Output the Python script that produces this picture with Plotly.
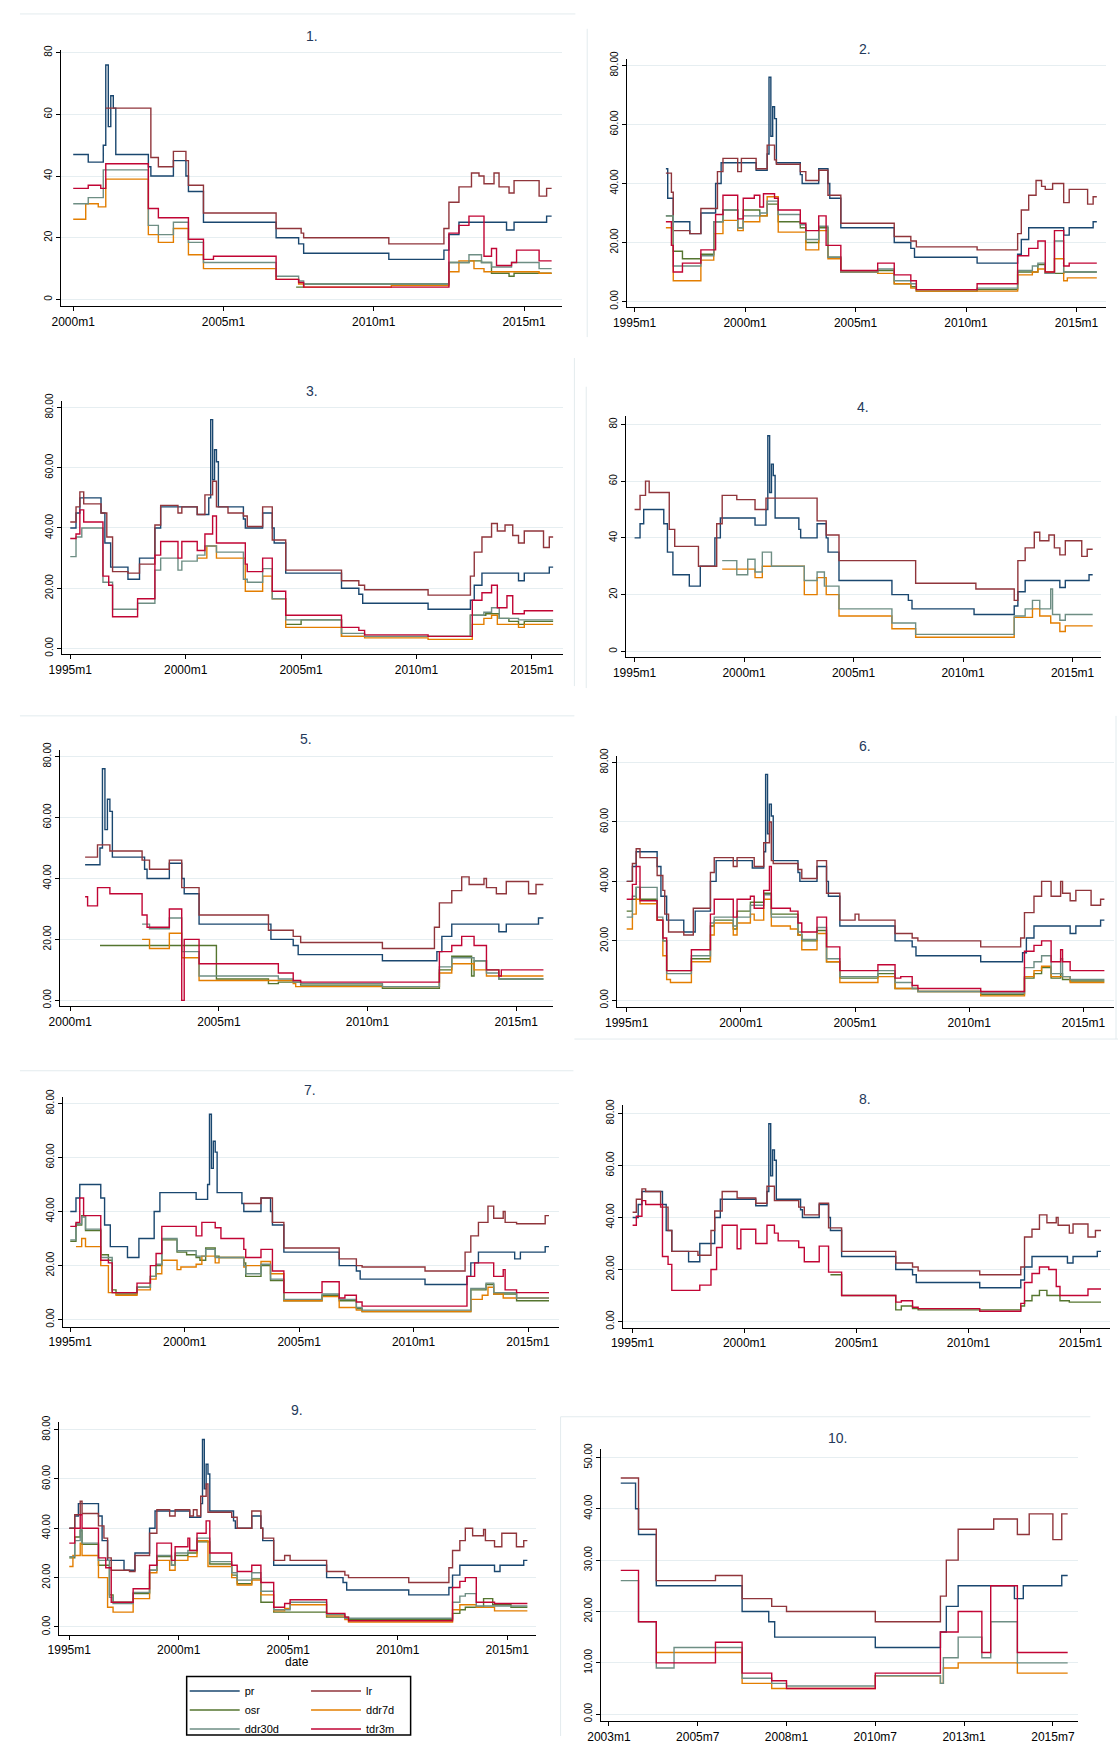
import plotly.graph_objects as go

# ---------------- data (change points, "YYYY-MM": value) ----------------
PR = [("1995-01", 40), ("1995-04", 45), ("1995-06", 50), ("1996-05", 45), ("1996-07", 35), ("1996-10", 27),
      ("1997-07", 23), ("1998-01", 30), ("1998-09", 40), ("1998-12", 47), ("2000-07", 44.5), ("2001-01", 50),
      ("2001-02", 76), ("2001-03", 56), ("2001-04", 66), ("2001-05", 62), ("2001-06", 47), ("2002-07", 43),
      ("2002-08", 40), ("2003-05", 45), ("2003-10", 40), ("2003-11", 35), ("2004-05", 25), ("2006-10", 20),
      ("2007-07", 18), ("2007-09", 15), ("2010-07", 13), ("2012-05", 16), ("2012-07", 21), ("2012-11", 25),
      ("2014-06", 22.5), ("2014-09", 25), ("2015-10", 27), ("2015-12", 27)]
PR_START = ["2000-01", "1996-06", "1995-01", "1995-01", "2000-07", "1995-01", "1995-01", "1995-01", "1995-01", "2003-05"]

# Panel 1
P1_LR = [("2001-02", 62), ("2002-08", 46), ("2002-11", 43), ("2003-05", 48), ("2003-10", 45), ("2003-11", 37),
         ("2004-05", 28), ("2006-10", 23), ("2007-08", 21.5), ("2007-09", 20), ("2010-07", 18), ("2012-05", 23),
         ("2012-07", 31.5), ("2012-11", 36.5), ("2013-04", 41), ("2013-07", 40), ("2013-09", 37.5), ("2014-01", 41),
         ("2014-03", 36.5), ("2014-07", 34.5), ("2014-09", 38.5), ("2015-07", 33.5), ("2015-10", 36), ("2015-12", 36)]
P1_OSR = [("2007-06", 4), ("2007-09", 5), ("2012-07", 12), ("2013-03", 12.5), ("2013-08", 12), ("2013-12", 8.5),
          ("2014-07", 7.5), ("2014-09", 8.5), ("2015-12", 8.5)]
P1_DDR7D = [("2000-01", 26), ("2000-06", 31), ("2000-11", 30), ("2001-02", 39), ("2002-07", 21), ("2002-11", 18.5),
            ("2003-05", 23), ("2003-11", 14.5), ("2004-05", 10), ("2006-10", 6.5), ("2007-07", 5), ("2007-09", 4),
            ("2010-08", 4.5), ("2012-07", 9), ("2012-11", 12.5), ("2013-05", 10), ("2013-09", 9), ("2015-07", 8.5),
            ("2015-12", 8.5)]
P1_DDR30D = [("2000-01", 31), ("2000-07", 33), ("2001-01", 42), ("2002-07", 24), ("2002-11", 21), ("2003-05", 25),
             ("2003-11", 18.5), ("2004-05", 12), ("2006-10", 7.5), ("2007-07", 6), ("2007-09", 5), ("2012-07", 12),
             ("2013-03", 14.5), ("2013-08", 12), ("2013-12", 10.5), ("2014-08", 12), ("2015-07", 10), ("2015-12", 10)]
P1_TDR3M = [("2000-01", 36), ("2000-07", 37), ("2000-12", 36), ("2001-02", 44), ("2002-07", 29.5), ("2002-11", 26.5),
            ("2003-11", 19.5), ("2004-05", 13), ("2004-09", 14), ("2006-10", 6.5), ("2007-07", 5.5), ("2007-09", 4),
            ("2012-07", 21.5), ("2012-11", 24), ("2013-03", 27), ("2013-09", 14), ("2013-12", 16.5), ("2014-02", 11),
            ("2014-08", 12), ("2014-10", 16), ("2015-07", 12.5), ("2015-12", 12.5)]

# Panel 2
P2_LR = [("1996-06", 43.5), ("1996-09", 37), ("1996-10", 24), ("1997-07", 23), ("1998-01", 31.5), ("1998-10", 44),
         ("1999-01", 48.5), ("1999-09", 44), ("1999-11", 48.5), ("2000-07", 45), ("2001-01", 53), ("2001-05", 48),
         ("2001-06", 46.5), ("2002-07", 44), ("2002-10", 41), ("2003-05", 44.5), ("2003-10", 36), ("2004-05", 26.5),
         ("2006-10", 22), ("2007-07", 20.5), ("2007-10", 18.5), ("2010-07", 17.5), ("2012-05", 23), ("2012-07", 31),
         ("2012-11", 36), ("2013-03", 41), ("2013-06", 39), ("2013-08", 38), ("2013-12", 40), ("2014-06", 33.5),
         ("2014-09", 38), ("2015-07", 33), ("2015-10", 35.5), ("2015-12", 35.5)]
P2_OSR = [("1996-06", 29), ("1996-10", 17), ("1997-03", 14.5), ("1998-01", 16), ("1998-08", 27), ("1999-01", 31),
          ("1999-09", 25), ("1999-12", 31), ("2000-09", 29), ("2001-01", 33), ("2001-07", 27), ("2002-07", 25),
          ("2002-10", 20), ("2003-05", 25), ("2003-10", 15), ("2004-05", 10), ("2006-01", 10.5), ("2006-10", 6),
          ("2007-07", 5), ("2007-10", 3.5), ("2010-07", 4), ("2012-05", 10), ("2013-04", 12.5), ("2013-08", 9.5),
          ("2014-06", 10), ("2015-12", 10)]
P2_DDR7D = [("1996-06", 25), ("1996-10", 7), ("1998-01", 14), ("1998-08", 23), ("1999-01", 27.5), ("1999-09", 24),
            ("1999-12", 27), ("2000-09", 29), ("2001-01", 35.5), ("2001-07", 23.5), ("2002-10", 17.5), ("2003-05", 24),
            ("2003-10", 14.5), ("2004-05", 10), ("2006-01", 9.5), ("2006-10", 6), ("2007-07", 4.5), ("2007-10", 3.5),
            ("2012-05", 9), ("2013-01", 10), ("2013-04", 11), ("2013-08", 10), ("2014-01", 14.5), ("2014-06", 7),
            ("2014-08", 8), ("2015-12", 8)]
P2_DDR30D = [("1996-06", 29), ("1996-10", 12), ("1998-01", 15.5), ("1998-08", 27), ("1999-01", 31), ("1999-09", 25),
             ("1999-12", 29), ("2000-09", 30), ("2001-01", 34), ("2001-07", 29.5), ("2002-07", 26), ("2002-10", 21),
             ("2003-05", 25.5), ("2003-10", 15), ("2004-05", 10), ("2006-01", 11), ("2006-10", 7), ("2007-07", 6),
             ("2007-10", 4), ("2010-07", 4.5), ("2012-05", 10.5), ("2013-01", 12), ("2013-04", 13), ("2013-08", 9.5),
             ("2014-01", 20.5), ("2014-06", 10), ("2015-12", 10)]
P2_TDR3M = [("1996-06", 27), ("1996-09", 19), ("1996-10", 10), ("1997-03", 13), ("1998-01", 17.5), ("1998-09", 29.5),
            ("1999-01", 36), ("1999-09", 28), ("1999-12", 35), ("2000-06", 36), ("2000-09", 32), ("2000-11", 36.5),
            ("2001-05", 35), ("2001-07", 31), ("2002-07", 26.5), ("2002-10", 24), ("2003-05", 29), ("2003-09", 19),
            ("2004-05", 10.5), ("2006-01", 13), ("2006-10", 9), ("2007-07", 7), ("2007-10", 4), ("2010-07", 6),
            ("2012-05", 15.5), ("2012-11", 18), ("2013-04", 20.5), ("2013-08", 10), ("2014-01", 24), ("2014-06", 12),
            ("2014-09", 13), ("2015-12", 13)]

# Panel 3
P3_LR = [("1995-01", 42), ("1995-04", 47), ("1995-06", 52), ("1995-08", 48), ("1996-05", 45), ("1996-08", 37),
         ("1996-11", 25.5), ("1997-07", 25), ("1998-01", 28), ("1998-09", 41), ("1998-12", 47.5), ("1999-09", 45),
         ("1999-11", 47), ("2000-07", 44.5), ("2000-11", 51), ("2001-03", 55.5), ("2001-05", 47), ("2001-11", 45),
         ("2002-07", 44), ("2002-09", 40.5), ("2003-05", 47), ("2003-10", 36), ("2004-05", 26), ("2006-10", 22.5),
         ("2007-07", 21), ("2007-10", 19.5), ("2010-07", 17.7), ("2012-05", 24), ("2012-07", 32), ("2012-11", 37),
         ("2013-04", 41.5), ("2013-07", 39), ("2013-11", 41), ("2014-03", 37.5), ("2014-06", 35), ("2014-09", 39),
         ("2015-07", 33.5), ("2015-10", 37), ("2015-12", 37)]
P3_OSR = [("2004-05", 8), ("2005-01", 9.5), ("2006-10", 4), ("2012-05", 11), ("2013-01", 11.5), ("2013-08", 10),
          ("2014-01", 9), ("2014-06", 8), ("2014-09", 9), ("2015-12", 9)]
P3_DDR7D = [("2000-07", 30), ("2000-12", 34), ("2001-05", 30), ("2002-08", 19), ("2003-05", 24), ("2003-10", 16.5),
            ("2004-05", 7), ("2006-10", 4), ("2007-10", 3.5), ("2010-07", 3), ("2012-06", 8), ("2012-12", 10),
            ("2013-04", 11), ("2013-07", 8), ("2014-06", 7), ("2014-09", 8), ("2015-12", 8)]
P3_DDR30D = [("1995-01", 30.5), ("1995-04", 37), ("1995-07", 40), ("1996-06", 22), ("1996-11", 13), ("1997-12", 15),
             ("1998-09", 26), ("1998-12", 30), ("1999-09", 26), ("1999-11", 29), ("2000-07", 31), ("2000-11", 34),
             ("2001-05", 32), ("2002-07", 23), ("2002-09", 22), ("2003-05", 26.5), ("2003-10", 16.5), ("2004-05", 9.5),
             ("2006-10", 5), ("2007-10", 4), ("2012-05", 11), ("2012-12", 12), ("2013-04", 13.5), ("2013-08", 10),
             ("2014-06", 9.5), ("2015-12", 9.5)]
P3_TDR3M = [("1995-01", 36.5), ("1995-04", 38), ("1995-06", 46), ("1995-08", 42), ("1996-06", 24), ("1996-09", 21),
            ("1996-11", 10.5), ("1997-12", 16.5), ("1998-09", 31), ("1998-12", 35.5), ("1999-09", 30), ("1999-11", 35.5),
            ("2000-07", 32.5), ("2000-11", 38), ("2001-03", 44), ("2001-05", 35), ("2002-08", 28), ("2002-09", 25.5),
            ("2003-05", 30), ("2003-10", 19), ("2004-05", 11), ("2006-10", 7), ("2007-07", 6), ("2007-10", 4.5),
            ("2010-07", 4), ("2012-06", 16), ("2012-11", 18.5), ("2013-04", 21), ("2013-07", 13.5), ("2013-12", 17.5),
            ("2014-03", 11.5), ("2014-09", 12.5), ("2015-12", 12.5)]

# Panel 4
P4_LR = [("1995-01", 50), ("1995-04", 55), ("1995-07", 60), ("1995-09", 56), ("1996-08", 43), ("1996-11", 37),
         ("1997-12", 30), ("1998-10", 45), ("1999-01", 55), ("1999-09", 53.5), ("2000-07", 50), ("2001-01", 54),
         ("2003-05", 46), ("2003-10", 41), ("2004-05", 32), ("2007-11", 24), ("2010-08", 22), ("2012-05", 18),
         ("2012-07", 32), ("2012-11", 36.5), ("2013-04", 42), ("2013-07", 39), ("2013-12", 41), ("2014-03", 36.5),
         ("2014-06", 34), ("2014-09", 39), ("2015-06", 33.5), ("2015-09", 36), ("2015-12", 36)]
P4_DDR7D = [("1999-01", 29), ("2000-07", 26), ("2000-11", 30), ("2002-10", 20), ("2003-05", 26), ("2003-10", 20),
            ("2004-05", 12.5), ("2006-10", 8), ("2007-11", 5), ("2012-05", 12), ("2013-03", 15), ("2013-07", 12.5),
            ("2014-01", 10), ("2014-06", 7), ("2014-09", 9), ("2015-12", 9)]
P4_DDR30D = [("1999-01", 32), ("1999-09", 27), ("2000-03", 32.5), ("2000-07", 28), ("2000-11", 35), ("2001-04", 30),
             ("2002-10", 25), ("2003-05", 28), ("2003-09", 23), ("2004-05", 15), ("2006-10", 10), ("2007-11", 6),
             ("2012-05", 12.5), ("2012-11", 15), ("2013-03", 18), ("2013-07", 15), ("2014-01", 22), ("2014-02", 13),
             ("2014-06", 11), ("2014-09", 13), ("2015-12", 13)]

# Panel 5
P5_LR = [("2000-07", 47), ("2000-12", 51), ("2001-05", 49), ("2002-06", 46), ("2002-09", 43), ("2003-05", 46),
         ("2003-10", 37), ("2004-05", 28), ("2006-09", 23), ("2007-07", 21), ("2007-10", 19), ("2010-07", 17),
         ("2012-04", 24), ("2012-06", 32), ("2012-11", 36), ("2013-03", 40.5), ("2013-06", 38), ("2013-12", 40),
         ("2014-01", 37), ("2014-05", 35), ("2014-09", 39), ("2015-06", 35), ("2015-09", 38), ("2015-12", 38)]
P5_OSR = [("2001-01", 18), ("2004-12", 7), ("2006-09", 5.5), ("2007-01", 6), ("2007-10", 5), ("2010-07", 4),
          ("2012-06", 10), ("2012-11", 14.5), ("2013-07", 8), ("2013-08", 13), ("2014-01", 10), ("2014-06", 7),
          ("2015-12", 7)]
P5_DDR7D = [("2002-06", 20), ("2002-09", 17), ("2003-05", 22), ("2003-10", 14), ("2004-05", 6.5), ("2007-07", 5.5),
            ("2007-08", 4.5), ("2012-06", 9), ("2012-11", 12), ("2013-08", 10), ("2014-01", 8), ("2015-12", 8)]
P5_DDR30D = [("2002-06", 25), ("2002-09", 23.5), ("2003-05", 27), ("2003-10", 16), ("2004-05", 8), ("2007-01", 7),
             ("2007-07", 6), ("2007-10", 5.5), ("2010-07", 4.5), ("2012-06", 11), ("2012-11", 14), ("2013-08", 13),
             ("2014-01", 9), ("2014-06", 7), ("2015-12", 7)]
P5_TDR3M = [("2000-07", 34), ("2000-08", 31), ("2000-12", 37), ("2001-05", 35), ("2002-06", 28), ("2002-08", 24),
            ("2003-05", 30), ("2003-10", 0), ("2003-11", 20), ("2004-05", 12), ("2007-01", 9), ("2007-07", 6.5),
            ("2007-10", 6), ("2012-06", 16), ("2012-11", 18), ("2013-03", 21), ("2013-08", 18), ("2014-01", 10),
            ("2014-06", 8), ("2014-07", 10), ("2015-12", 10)]

# Panel 6
P6_LR = [("1995-01", 40), ("1995-04", 46), ("1995-06", 51), ("1995-08", 48), ("1996-05", 42), ("1996-08", 37),
         ("1996-09", 29), ("1996-11", 23), ("1997-07", 22), ("1997-12", 31), ("1998-09", 43), ("1998-11", 48),
         ("1999-09", 45), ("1999-11", 48), ("2000-08", 45), ("2001-01", 53), ("2001-04", 60), ("2001-05", 47),
         ("2001-06", 46), ("2002-07", 44), ("2002-09", 41), ("2003-05", 47), ("2003-10", 36), ("2004-05", 27),
         ("2005-01", 29), ("2005-03", 27), ("2006-10", 22.5), ("2007-07", 21), ("2007-10", 20), ("2010-07", 18),
         ("2012-04", 21), ("2012-06", 29.5), ("2012-11", 35), ("2013-03", 40), ("2013-08", 35), ("2014-01", 40),
         ("2014-02", 36), ("2014-06", 33.5), ("2014-09", 37), ("2015-05", 32), ("2015-10", 34), ("2015-12", 34)]
P6_OSR = [("1995-01", 30), ("1995-04", 34), ("1995-06", 38), ("1995-08", 34), ("1996-05", 27), ("1996-08", 20),
          ("1996-10", 10), ("1997-11", 14), ("1998-09", 25), ("1998-11", 27), ("1999-09", 24), ("1999-11", 30),
          ("2000-06", 33), ("2001-01", 36), ("2001-05", 29), ("2002-07", 22), ("2002-09", 20), ("2003-05", 23.5),
          ("2003-10", 13), ("2004-05", 7.5), ("2006-01", 9), ("2006-10", 4), ("2007-10", 3), ("2010-07", 2),
          ("2012-06", 7.5), ("2012-11", 9), ("2013-03", 11), ("2013-08", 7.5), ("2014-01", 9), ("2014-02", 7),
          ("2014-06", 6.5), ("2015-12", 6.5)]
P6_DDR7D = [("1995-01", 24), ("1995-04", 29), ("1995-06", 34), ("1995-08", 32.5), ("1996-05", 27), ("1996-08", 15),
            ("1996-10", 7), ("1996-12", 6), ("1997-11", 13), ("1998-09", 22), ("1998-11", 26), ("1999-09", 22),
            ("1999-11", 26), ("2000-06", 29), ("2000-08", 27), ("2001-01", 34), ("2001-05", 25), ("2002-03", 24),
            ("2002-07", 22), ("2002-09", 17), ("2003-05", 22.5), ("2003-10", 13), ("2004-05", 6), ("2006-01", 8),
            ("2006-10", 4), ("2007-10", 3), ("2010-07", 1.5), ("2012-06", 8), ("2012-11", 10), ("2013-03", 11.5),
            ("2013-08", 8), ("2014-06", 6), ("2015-12", 6)]
P6_DDR30D = [("1995-01", 28), ("1995-04", 35), ("1995-06", 38), ("1996-05", 28), ("1996-08", 20), ("1996-10", 9),
             ("1997-11", 15), ("1998-09", 26), ("1998-11", 28), ("1999-09", 25), ("1999-11", 28), ("2000-06", 32),
             ("2001-01", 35.5), ("2001-05", 28), ("2002-07", 23), ("2002-09", 20.5), ("2003-05", 24.5), ("2003-10", 14),
             ("2004-05", 8), ("2006-01", 10), ("2006-10", 6), ("2007-07", 4), ("2007-10", 3), ("2010-07", 2.5),
             ("2012-06", 11), ("2012-11", 13), ("2013-03", 15), ("2013-08", 9), ("2014-01", 14), ("2014-02", 8),
             ("2014-06", 7), ("2015-12", 7)]
P6_TDR3M = [("1995-01", 34), ("1995-04", 39), ("1995-06", 45), ("1995-08", 33.5), ("1996-05", 27), ("1996-08", 21),
            ("1996-10", 10), ("1997-11", 17), ("1998-09", 29), ("1998-11", 34), ("1999-09", 28), ("1999-11", 34),
            ("2000-06", 35), ("2000-08", 31), ("2001-01", 37), ("2001-04", 45), ("2001-05", 31), ("2002-03", 30),
            ("2002-07", 26), ("2002-09", 23), ("2003-05", 28), ("2003-10", 18), ("2004-05", 10), ("2006-01", 12),
            ("2006-10", 7.5), ("2007-01", 8), ("2007-07", 5), ("2007-10", 4), ("2010-07", 3), ("2012-06", 16.5),
            ("2012-11", 18.5), ("2013-03", 20), ("2013-08", 13), ("2014-01", 17), ("2014-02", 13), ("2014-06", 10),
            ("2015-12", 10)]

# Panel 7
P7_LR = [("2002-08", 43), ("2003-05", 45), ("2003-11", 36), ("2004-05", 26.5), ("2006-10", 22.5), ("2007-07", 20),
         ("2007-10", 19.5), ("2010-07", 18), ("2012-04", 25), ("2012-07", 31), ("2012-11", 36), ("2013-04", 42),
         ("2013-07", 37.5), ("2013-12", 40), ("2014-01", 36), ("2014-07", 35.5), ("2015-10", 38.5), ("2015-12", 38.5)]
P7_OSR = [("1995-01", 29), ("1995-04", 35), ("1995-07", 38.5), ("1995-09", 33), ("1996-05", 24), ("1996-09", 22),
          ("1996-11", 11), ("1997-01", 9.5), ("1997-12", 12), ("1998-07", 16), ("1998-10", 20), ("1999-01", 29.5),
          ("1999-09", 25), ("2000-02", 24), ("2000-07", 23), ("2000-09", 22), ("2000-12", 26.5), ("2001-05", 23.5),
          ("2001-07", 23), ("2002-08", 21), ("2002-09", 16), ("2003-05", 20), ("2003-10", 14.5), ("2004-05", 7),
          ("2006-01", 9), ("2006-10", 7), ("2007-07", 4), ("2007-10", 3), ("2012-07", 11), ("2013-03", 13),
          ("2013-07", 9.5), ("2014-07", 7), ("2015-12", 7)]
P7_DDR7D = [("1995-04", 27), ("1995-07", 30), ("1995-09", 27), ("1996-05", 20), ("1996-09", 10), ("1997-01", 9),
            ("1997-12", 11), ("1998-07", 15), ("1998-10", 17), ("1999-01", 22), ("1999-09", 18.5), ("1999-11", 19.5),
            ("2000-07", 20.5), ("2000-10", 23.5), ("2001-05", 21), ("2001-07", 23), ("2002-08", 19.5), ("2002-09", 20),
            ("2003-05", 21.5), ("2003-10", 17), ("2004-05", 7), ("2006-01", 8.5), ("2006-10", 4.5), ("2007-07", 3.5),
            ("2007-10", 3), ("2012-07", 7.5), ("2013-01", 9), ("2013-04", 12), ("2013-07", 9.5), ("2013-12", 8),
            ("2015-12", 8)]
P7_DDR30D = [("1995-01", 29.5), ("1995-04", 35.5), ("1995-07", 38), ("1995-09", 33.5), ("1996-05", 23), ("1996-11", 10),
             ("1997-12", 12), ("1998-07", 16), ("1998-10", 20.5), ("1999-01", 30), ("1999-09", 25.5), ("2000-07", 23.5),
             ("2000-12", 26), ("2001-05", 23), ("2002-08", 20), ("2002-09", 17), ("2003-05", 20.5), ("2003-10", 15),
             ("2004-05", 7.5), ("2006-01", 9.5), ("2006-10", 7.5), ("2007-07", 4.5), ("2007-10", 3.5), ("2012-07", 11.5),
             ("2013-03", 13.5), ("2013-07", 10), ("2014-07", 8), ("2015-12", 8)]
P7_TDR3M = [("1995-01", 34.5), ("1995-04", 36), ("1995-06", 45), ("1995-08", 38.5), ("1996-05", 22), ("1996-09", 21),
            ("1996-11", 10), ("1997-12", 13.5), ("1998-07", 20), ("1998-10", 24.5), ("1999-01", 34.5), ("2000-07", 31),
            ("2000-10", 36), ("2001-05", 34), ("2001-08", 30), ("2002-08", 26), ("2002-09", 23), ("2003-05", 26),
            ("2003-11", 18), ("2004-05", 10), ("2006-01", 14), ("2006-10", 8), ("2007-01", 9), ("2007-07", 6.5),
            ("2007-10", 5), ("2012-05", 16), ("2012-09", 21), ("2013-07", 16), ("2013-12", 18.5), ("2014-01", 11),
            ("2014-07", 10), ("2015-12", 10)]

# Panel 8
P8_LR = [("1995-01", 42), ("1995-03", 47), ("1995-06", 51), ("1995-08", 50), ("1996-04", 44), ("1996-08", 35),
         ("1996-10", 27), ("1997-12", 25.5), ("1998-07", 35), ("1998-09", 42.5), ("1999-01", 50), ("1999-09", 47.5),
         ("2000-07", 45.5), ("2001-01", 52), ("2001-05", 46.5), ("2002-06", 44), ("2002-09", 41), ("2003-05", 45.5),
         ("2003-10", 36), ("2004-05", 27), ("2006-10", 22.5), ("2007-07", 21), ("2007-10", 19.5), ("2010-07", 18),
         ("2012-05", 21), ("2012-07", 32.5), ("2012-11", 35.5), ("2013-03", 41), ("2013-07", 38), ("2013-12", 40),
         ("2014-01", 37), ("2014-07", 34), ("2014-09", 37.5), ("2015-05", 32.5), ("2015-09", 35), ("2015-12", 35)]
P8_OSR = [("2003-11", 18), ("2004-05", 10), ("2006-10", 4.5), ("2007-01", 6), ("2007-07", 5), ("2007-10", 4.5),
          ("2012-05", 6), ("2012-07", 8), ("2012-11", 10), ("2013-03", 12), ("2013-07", 10), ("2014-02", 8),
          ("2014-07", 7.5), ("2015-12", 7.5)]
P8_TDR3M = [("1995-01", 37), ("1995-03", 40.5), ("1995-06", 46.5), ("1995-08", 45), ("1996-05", 25), ("1996-08", 22),
            ("1996-10", 12), ("1998-01", 14), ("1998-07", 20), ("1998-10", 28.5), ("1999-01", 37), ("1999-09", 28),
            ("1999-11", 35.5), ("2000-07", 30), ("2001-01", 37), ("2001-05", 34), ("2001-07", 31), ("2002-06", 28.5),
            ("2002-09", 23), ("2003-05", 29), ("2003-10", 19), ("2004-05", 10), ("2006-10", 7.5), ("2007-01", 8),
            ("2007-07", 5.5), ("2007-10", 5), ("2010-07", 4), ("2012-05", 7), ("2012-07", 15), ("2012-11", 18.5),
            ("2013-03", 21), ("2013-08", 20), ("2013-12", 13.5), ("2014-02", 10), ("2015-05", 12.5), ("2015-12", 12.5)]

# Panel 9
P9_LR = [("1995-01", 40), ("1995-04", 45.5), ("1995-07", 51), ("1995-08", 46), ("1996-05", 41), ("1996-08", 36),
         ("1996-10", 28), ("1996-12", 23), ("1997-10", 22.5), ("1998-01", 29), ("1998-09", 38), ("1999-01", 47.5),
         ("1999-08", 45), ("1999-11", 47.5), ("2000-07", 45), ("2000-09", 47.5), ("2000-11", 45), ("2001-01", 53),
         ("2001-04", 58), ("2001-05", 46.5), ("2002-06", 44.5), ("2002-09", 40), ("2003-05", 47), ("2003-10", 40),
         ("2003-11", 36), ("2004-05", 27), ("2004-11", 29), ("2005-02", 27), ("2006-10", 22.5), ("2007-08", 21),
         ("2007-10", 20), ("2010-07", 18), ("2012-05", 24), ("2012-07", 31), ("2012-11", 35), ("2013-02", 40),
         ("2013-06", 37), ("2013-12", 39.5), ("2014-01", 35), ("2014-06", 32.5), ("2014-10", 38), ("2015-06", 32.5),
         ("2015-10", 35), ("2015-12", 35)]
P9_OSR = [("1995-01", 28), ("1995-04", 36.5), ("1995-07", 39), ("1995-08", 33.5), ("1996-05", 25), ("1996-11", 13),
          ("1997-01", 10), ("1997-12", 13.5), ("1998-09", 23), ("1999-01", 28.5), ("1999-09", 25), ("1999-11", 29),
          ("2000-06", 30), ("2000-11", 34.5), ("2001-06", 25.5), ("2002-06", 21), ("2002-09", 17.5), ("2003-05", 19.5),
          ("2003-10", 10), ("2004-05", 6), ("2006-10", 4), ("2007-10", 3), ("2012-07", 5.5), ("2012-11", 7),
          ("2013-02", 8), ("2013-12", 11.5), ("2014-05", 9), ("2015-03", 8), ("2015-12", 8)]
P9_DDR7D = [("1995-01", 24.5), ("1995-03", 29), ("1995-07", 34), ("1995-08", 29), ("1996-05", 20), ("1996-10", 8),
            ("1997-01", 6), ("1997-12", 11.5), ("1998-09", 22), ("1999-01", 27), ("1999-08", 23), ("1999-11", 27),
            ("2000-06", 28.5), ("2000-11", 35), ("2001-05", 24.5), ("2002-06", 20), ("2002-09", 17), ("2003-05", 19),
            ("2003-10", 13), ("2004-05", 6.5), ("2004-11", 7.5), ("2005-02", 9), ("2006-10", 4.5), ("2007-08", 3),
            ("2007-10", 2), ("2012-07", 7), ("2012-11", 9), ("2013-08", 8), ("2014-06", 6.5), ("2015-12", 6.5)]
P9_DDR30D = [("1995-01", 28.5), ("1995-04", 35), ("1995-07", 39.5), ("1995-08", 34), ("1996-05", 27), ("1996-11", 12),
             ("1997-01", 9.5), ("1997-12", 14), ("1998-09", 23), ("1999-01", 29), ("1999-09", 25), ("1999-11", 30),
             ("2000-06", 31), ("2000-11", 36), ("2001-06", 26.5), ("2002-06", 22), ("2002-09", 19), ("2003-05", 22),
             ("2003-10", 14.5), ("2004-05", 7), ("2005-02", 10), ("2006-10", 5), ("2007-08", 3.5), ("2012-07", 10),
             ("2012-11", 12.5), ("2013-02", 13.5), ("2013-08", 8.5), ("2015-12", 8.5)]
P9_TDR3M = [("1995-01", 34), ("1995-04", 40), ("1995-07", 45.5), ("1995-08", 40), ("1996-05", 28), ("1996-09", 24),
            ("1996-12", 10), ("1997-12", 15.5), ("1998-09", 25), ("1999-01", 34), ("1999-09", 27), ("1999-11", 32.5),
            ("2000-06", 36), ("2000-07", 31), ("2000-11", 38), ("2001-04", 43), ("2001-06", 30), ("2002-06", 25),
            ("2002-09", 22.5), ("2003-05", 25), ("2003-10", 18), ("2004-05", 8), ("2004-11", 9.5), ("2005-02", 11),
            ("2006-10", 5.5), ("2007-08", 4), ("2007-10", 2.5), ("2012-07", 16), ("2012-11", 18.5), ("2013-02", 20),
            ("2013-08", 10), ("2014-06", 9.5), ("2015-12", 9.5)]

# Panel 10
P10_LR = [("2003-05", 46), ("2003-11", 36), ("2004-05", 26), ("2006-01", 27), ("2006-10", 22.5), ("2007-08", 21),
          ("2008-01", 20), ("2010-07", 18), ("2012-05", 23), ("2012-07", 30), ("2012-11", 36), ("2013-11", 38),
          ("2014-07", 35), ("2014-11", 39), ("2015-07", 34), ("2015-10", 39), ("2015-12", 39)]
P10_DDR7D = [("2004-05", 12), ("2006-10", 6), ("2007-08", 5), ("2010-07", 7.5), ("2012-05", 6), ("2012-06", 9),
             ("2012-11", 10), ("2014-07", 8), ("2015-12", 8)]
P10_DDR30D = [("2003-05", 26), ("2003-11", 18), ("2004-05", 9), ("2004-11", 13), ("2006-10", 7), ("2007-08", 6),
              ("2008-01", 5.5), ("2010-07", 7.5), ("2012-05", 6), ("2012-06", 11), ("2012-11", 15), ("2013-07", 11),
              ("2013-10", 18), ("2014-07", 10), ("2015-12", 10)]
P10_TDR3M = [("2003-05", 28), ("2003-11", 18), ("2004-05", 10), ("2006-01", 14), ("2006-10", 8), ("2007-08", 6.5),
             ("2008-01", 5), ("2010-07", 8), ("2012-05", 16), ("2012-11", 20), ("2013-07", 12), ("2013-10", 25),
             ("2014-07", 12), ("2015-12", 12)]

SERIES_NAMES = ["pr", "lr", "osr", "ddr7d", "ddr30d", "tdr3m"]
PANEL_TITLES = ["1.", "2.", "3.", "4.", "5.", "6.", "7.", "8.", "9.", "10."]

PANEL_SERIES = [
    {"lr": P1_LR, "osr": P1_OSR, "ddr7d": P1_DDR7D, "ddr30d": P1_DDR30D, "tdr3m": P1_TDR3M},
    {"lr": P2_LR, "osr": P2_OSR, "ddr7d": P2_DDR7D, "ddr30d": P2_DDR30D, "tdr3m": P2_TDR3M},
    {"lr": P3_LR, "osr": P3_OSR, "ddr7d": P3_DDR7D, "ddr30d": P3_DDR30D, "tdr3m": P3_TDR3M},
    {"lr": P4_LR, "ddr7d": P4_DDR7D, "ddr30d": P4_DDR30D},
    {"lr": P5_LR, "osr": P5_OSR, "ddr7d": P5_DDR7D, "ddr30d": P5_DDR30D, "tdr3m": P5_TDR3M},
    {"lr": P6_LR, "osr": P6_OSR, "ddr7d": P6_DDR7D, "ddr30d": P6_DDR30D, "tdr3m": P6_TDR3M},
    {"lr": P7_LR, "osr": P7_OSR, "ddr7d": P7_DDR7D, "ddr30d": P7_DDR30D, "tdr3m": P7_TDR3M},
    {"lr": P8_LR, "osr": P8_OSR, "tdr3m": P8_TDR3M},
    {"lr": P9_LR, "osr": P9_OSR, "ddr7d": P9_DDR7D, "ddr30d": P9_DDR30D, "tdr3m": P9_TDR3M},
    {"lr": P10_LR, "ddr7d": P10_DDR7D, "ddr30d": P10_DDR30D, "tdr3m": P10_TDR3M},
]

XT_9515 = ([1995, 2000, 2005, 2010, 2015], ["1995m1", "2000m1", "2005m1", "2010m1", "2015m1"])
XT_0015 = ([2000, 2005, 2010, 2015], ["2000m1", "2005m1", "2010m1", "2015m1"])
XT_10 = ([2003, 2005.5, 2008, 2010.5, 2013, 2015.5], ["2003m1", "2005m7", "2008m1", "2010m7", "2013m1", "2015m7"])
YT_INT = ([0, 20, 40, 60, 80], ["0", "20", "40", "60", "80"])
YT_DEC = ([0, 20, 40, 60, 80], ["0.00", "20.00", "40.00", "60.00", "80.00"])
YT_10 = ([0, 10, 20, 30, 40, 50], ["0.00", "10.00", "20.00", "30.00", "40.00", "50.00"])

# ---------------- layout (pixel geometry) ----------------
W, H = 1118, 1744
COLORS = {"pr": "#1a476f", "lr": "#90353b", "osr": "#55752f", "ddr7d": "#e37e00",
          "ddr30d": "#6e8e84", "tdr3m": "#c10534"}
GEOM = [
    dict(box=(47, 554, 43, 302), xc=(2000, 59, 2015, 516), yc=(80, 46, 295), xt=XT_0015, yt=YT_INT, title=(301, 29)),
    dict(box=(620, 1106, 52, 303), xc=(1995, 628, 2015, 1076), yc=(80, 59, 297), xt=XT_9515, yt=YT_DEC, title=(862, 42)),
    dict(box=(48, 555, 397, 653), xc=(1995, 56, 2015, 524), yc=(80, 404, 647), xt=XT_9515, yt=YT_DEC, title=(301, 387)),
    dict(box=(619, 1101, 413, 656), xc=(1995, 628, 2015, 1072), yc=(80, 421, 650), xt=XT_9515, yt=YT_INT, title=(860, 403)),
    dict(box=(46, 545, 749, 1008), xc=(2000, 56, 2015, 508), yc=(80, 756, 1002), xt=XT_0015, yt=YT_DEC, title=(295, 738)),
    dict(box=(610, 1114, 755, 1009), xc=(1995, 620, 2015, 1083), yc=(80, 762, 1002), xt=XT_9515, yt=YT_DEC, title=(862, 745)),
    dict(box=(49, 551, 1099, 1331), xc=(1995, 56, 2015, 520), yc=(80, 1106, 1324), xt=XT_9515, yt=YT_DEC, title=(299, 1092)),
    dict(box=(616, 1110, 1108, 1332), xc=(1995, 626, 2015, 1080), yc=(80, 1116, 1326), xt=XT_9515, yt=YT_DEC, title=(862, 1101)),
    dict(box=(45, 528, 1427, 1642), xc=(1995, 55, 2015, 499), yc=(80, 1435, 1634), xt=XT_9515, yt=YT_DEC, title=(286, 1415)),
    dict(box=(594, 1077, 1455, 1729), xc=(2003, 602, 2015.5, 1052), yc=(50, 1463, 1722), xt=XT_10, yt=YT_10, title=(834, 1443)),
]


def px(x):
    return x / W


def py(y):
    return 1 - y / H


def ym(s):
    y, m = s.split("-")
    return int(y) + (int(m) - 1) / 12.0


def pr_from(start):
    s = ym(start)
    val = None
    out = []
    for d, v in PR:
        if ym(d) <= s:
            val = v
        else:
            out.append((d, v))
    return [(start, val)] + out


fig = go.Figure()
FONT = "Liberation Sans, Arial, sans-serif"
layout_axes = {}
annotations = []

for i, g in enumerate(GEOM):
    n = i + 1
    xa = "x" if n == 1 else f"x{n}"
    ya = "y" if n == 1 else f"y{n}"
    series = dict(PANEL_SERIES[i])
    series["pr"] = pr_from(PR_START[i])
    for name in SERIES_NAMES:
        if name not in series:
            continue
        pts = series[name]
        fig.add_trace(go.Scatter(
            x=[ym(d) for d, _ in pts], y=[v for _, v in pts], mode="lines", name=name,
            line=dict(color=COLORS[name], width=1.4, shape="hv"),
            xaxis=xa, yaxis=ya, showlegend=(n == 9),
            legend="legend" if name in ("pr", "osr", "ddr30d") else "legend2",
            hoverinfo="skip"))
    left, right, top, bottom = g["box"]
    v1, p1, v2, p2 = g["xc"]
    sx = (p2 - p1) / (v2 - v1)
    xr = [v1 + (left - p1) / sx, v1 + (right - p1) / sx]
    vt, pt, p0 = g["yc"]
    sy = (p0 - pt) / vt
    yr = [(p0 - bottom) / sy, (p0 - top) / sy]
    layout_axes["xaxis" if n == 1 else f"xaxis{n}"] = dict(
        domain=[px(left), px(right)], range=xr, anchor=ya, tickmode="array",
        tickvals=g["xt"][0], ticktext=g["xt"][1], showgrid=False, zeroline=False,
        showline=True, linecolor="black", linewidth=1, ticks="outside", ticklen=4,
        tickcolor="black", tickfont=dict(size=12, color="black", family=FONT))
    layout_axes["yaxis" if n == 1 else f"yaxis{n}"] = dict(
        domain=[py(bottom), py(top)], range=yr, anchor=xa, tickmode="array",
        tickvals=g["yt"][0], ticktext=g["yt"][1], tickangle=-90, showgrid=True,
        gridcolor="#e6eef1", gridwidth=1, zeroline=False, showline=True, linecolor="black",
        linewidth=1, ticks="outside", ticklen=4, tickcolor="black",
        tickfont=dict(size=10, color="black", family=FONT))
    cx, cy = g["title"]
    annotations.append(dict(text=PANEL_TITLES[i], x=px(cx), y=py(cy), xref="paper", yref="paper",
                            showarrow=False, xanchor="center", yanchor="middle",
                            font=dict(size=14, color="#24395a", family=FONT)))

annotations.append(dict(text="date", x=px(286), y=py(1669), xref="paper", yref="paper", showarrow=False,
                        xanchor="center", yanchor="middle", font=dict(size=12, color="black", family=FONT)))

shapes = []
shapes.append(dict(type="rect", xref="paper", yref="paper", x0=px(174), x1=px(401), y0=py(1743), y1=py(1684),
                   line=dict(color="black", width=1.5), fillcolor="rgba(0,0,0,0)"))
FAINT = [((5, 7), (568, 7)), ((580, 22), (580, 333)), ((567, 354), (567, 685)), ((579, 383), (579, 687)),
         ((5, 715), (567, 715)), ((567, 1041), (1118, 1041)), ((1116, 715), (1116, 1041)),
         ((5, 1073), (566, 1073)), ((553, 1422), (553, 1744)), ((553, 1422), (1090, 1422))]
for (a, b) in FAINT:
    shapes.append(dict(type="line", xref="paper", yref="paper", x0=px(a[0]), y0=py(a[1]), x1=px(b[0]),
                       y1=py(b[1]), line=dict(color="#e3ebee", width=1)))

fig.update_layout(
    width=W, height=H, autosize=False, margin=dict(l=0, r=0, t=0, b=0),
    paper_bgcolor="white", plot_bgcolor="white", annotations=annotations, shapes=shapes,
    legend=dict(x=px(172), y=py(1684), xanchor="left", yanchor="top", orientation="v", itemwidth=50,
                bgcolor="rgba(0,0,0,0)", font=dict(size=11, color="black", family=FONT), tracegroupgap=0),
    legend2=dict(x=px(295), y=py(1684), xanchor="left", yanchor="top", orientation="v", itemwidth=50,
                 bgcolor="rgba(0,0,0,0)", font=dict(size=11, color="black", family=FONT), tracegroupgap=0),
    **layout_axes)

fig.write_html("out.html")
